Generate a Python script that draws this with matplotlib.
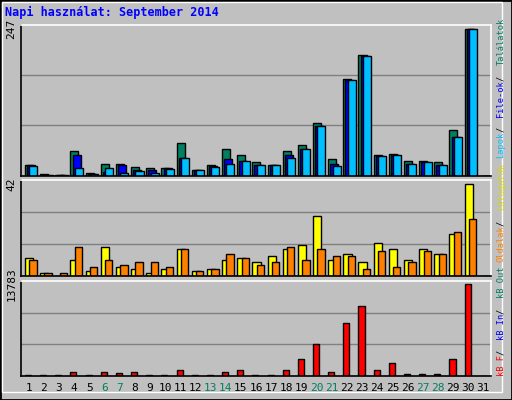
import matplotlib
matplotlib.use("Agg")
import matplotlib.pyplot as plt
from matplotlib.patches import Rectangle
import numpy as np

days = list(range(1, 32))
weekend = [6, 7, 13, 14, 20, 21, 27, 28]
hits = [18, 3, 1, 41.5, 4.5, 21, 21, 14.6, 13, 13, 55, 9.5, 18, 45, 35, 23, 18, 41.5, 51.6, 90, 28, 163, 203, 35, 36.5, 24.7, 24.7, 23, 77, 247, 0]
files = [18, 2, 1, 35, 3, 7, 18, 10.7, 9.5, 13, 31, 9.5, 17, 28, 24.7, 18, 18, 35, 45, 84, 21, 162, 202, 34, 35, 19.6, 23, 18, 65, 247, 0]
pages = [16, 2, 1, 13, 3, 13, 4.5, 8, 4.5, 11, 30, 9.5, 14.6, 19.6, 24.7, 18, 18, 30, 45, 84, 16, 161, 201.5, 33, 35, 19.6, 23, 18, 65, 247, 0]
visits = [8.2, 1.4, 0, 7.3, 2.3, 13.2, 4.1, 3.2, 1.4, 3.2, 12.3, 2.3, 3.2, 7.3, 8.2, 6.4, 9.1, 12.3, 14.2, 27.4, 7.3, 10, 6.4, 15, 12.3, 7.3, 12.3, 10, 19.2, 42, 0]
sites = [7.3, 1.4, 1.4, 13.2, 4.1, 7.3, 5, 6.4, 6.4, 4.1, 12.3, 2.3, 3.2, 10, 8.2, 5, 6.4, 13.2, 7.3, 12.3, 9.1, 9.1, 3.2, 11.4, 4.1, 6.4, 11.4, 10, 20, 26, 0]
kbytes = [150, 150, 150, 600, 150, 600, 450, 600, 150, 150, 760, 150, 150, 600, 760, 150, 150, 760, 2420, 4700, 600, 7880, 10450, 760, 1820, 300, 300, 300, 2420, 13783, 0]

W, H = 512, 400
fig = plt.figure(figsize=(W/100, H/100), dpi=100, facecolor="#c0c0c0")
fig.patches.append(Rectangle((0, 0), 1, 1, transform=fig.transFigure, fill=False, edgecolor="black", lw=2))
fig.patches.append(Rectangle((2/W, 8/H), (W-12)/W, (H-10)/H, transform=fig.transFigure, fill=False, edgecolor="white", lw=1))
mono = "DejaVu Sans Mono"
fig.text(5/W, 1-12/H, "Napi használat: September 2014", color="#0000ff", fontsize=8.5, fontweight="bold", family=mono, va="center")

def mkax(top, bottom):
    ax = fig.add_axes([21/W, 1-bottom/H, 470/W, (bottom-top)/H])
    ax.set_facecolor("#c0c0c0")
    for s in ax.spines.values():
        s.set_color("black"); s.set_linewidth(1.2)
    ax.spines["top"].set_color("white"); ax.spines["right"].set_color("white")
    ax.set_xlim(0.5, 31.5)
    ax.set_xticks([]); ax.set_yticks([])
    return ax

x = np.array(days, dtype=float)
bk = dict(edgecolor="black", linewidth=1, align="edge")

ax1 = mkax(24.5, 176)
ax1.set_ylim(0, 255)
for g in (85, 170):
    ax1.axhline(g, color="#808080", lw=1, zorder=0)
ax1.bar(x-0.5+0.26, hits, 0.53, color="#008060", **bk)
ax1.bar(x-0.5+0.40, files, 0.53, color="#0000ff", **bk)
ax1.bar(x-0.5+0.55, pages, 0.53, color="#00bfff", **bk)
ax1.text(-0.01, 247, "247", rotation=90, transform=ax1.get_yaxis_transform(), ha="right", va="center", fontsize=8, family=mono)

ax2 = mkax(180, 276)
ax2.set_ylim(0, 44)
for g in (14.7, 29.3):
    ax2.axhline(g, color="#808080", lw=1, zorder=0)
ax2.bar(x-0.5+0.26, visits, 0.55, color="#ffff00", **bk)
ax2.bar(x-0.5+0.55, sites, 0.48, color="#ff8000", **bk)
ax2.text(-0.01, 42, "42", rotation=90, transform=ax2.get_yaxis_transform(), ha="right", va="center", fontsize=8, family=mono)

ax3 = mkax(281, 375.5)
ax3.set_ylim(0, 14288)
for g in (4763, 9525):
    ax3.axhline(g, color="#808080", lw=1, zorder=0)
ax3.bar(x-0.5+0.26, kbytes, 0.4, color="#ff0000", **bk)
ax3.text(-0.01, 13783, "13783", rotation=90, transform=ax3.get_yaxis_transform(), ha="right", va="center", fontsize=8, family=mono)

for d in days:
    ax3.text(d, -0.13, str(d), transform=ax3.get_xaxis_transform(), ha="center", va="center",
             fontsize=8, family=mono, color="#008060" if d in weekend else "black")

pieces = [("kB F", "#ff0000"), (" / ", "black"), ("kB In", "#0000ff"), (" / ", "black"),
          ("kB Out", "#008060"), (" ", "black"), ("Oldalak", "#ff8000"), (" / ", "black"), ("Látogatók", "#d8d800"),
          (" ", "black"), ("Lapok", "#00bfff"), (" / ", "black"), ("File-ok", "#0000ff"), (" / ", "black"),
          ("Találatok", "#008060")]
cw = 0.602 * 6.2 * 100 / 72
y = 376
for s, c in pieces:
    if s.strip():
        fig.text(501/W, 1-y/H, s.strip(), color=c, rotation=90, rotation_mode="anchor",
                 ha="left", va="center", fontsize=6.2, family=mono)
    y -= len(s) * cw

fig.savefig("out.png", dpi=100, facecolor=fig.get_facecolor())
